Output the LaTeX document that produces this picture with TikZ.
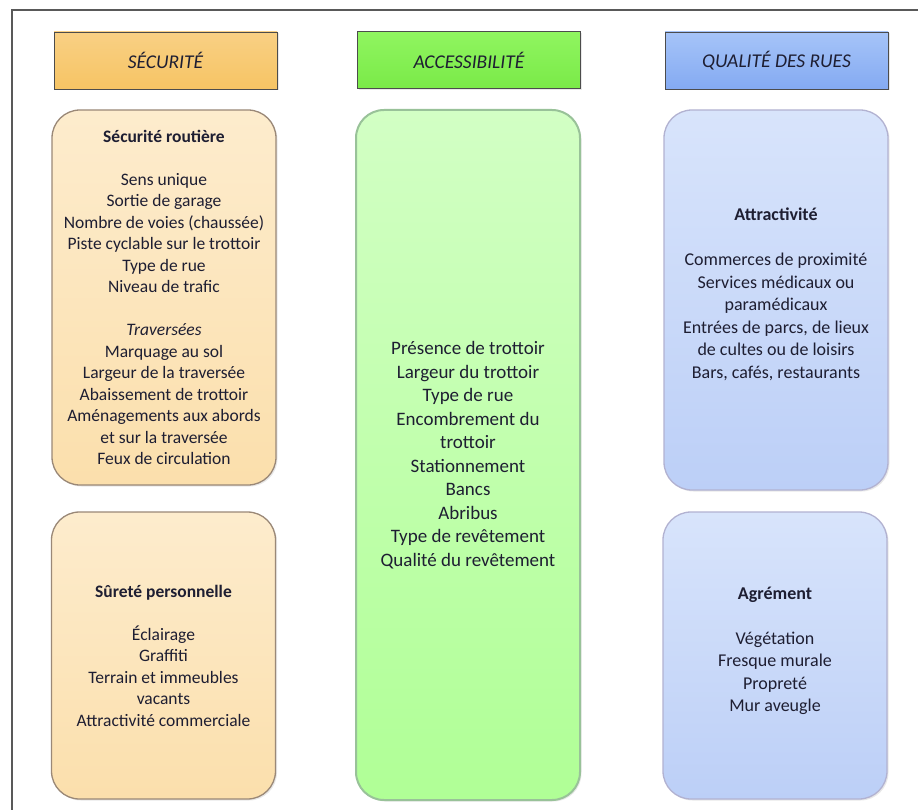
\documentclass[tikz,border=0pt]{standalone}
\usepackage{fontspec}
\setmainfont{Carlito}
\usetikzlibrary{shadows}
\definecolor{txt}{RGB}{30,30,50}
\definecolor{secdark}{RGB}{246,196,100}
\definecolor{seclight}{RGB}{249,208,132}
\definecolor{secbox}{RGB}{253,236,205}
\definecolor{secboxb}{RGB}{251,223,172}
\definecolor{accdark}{RGB}{122,234,72}
\definecolor{acclight}{RGB}{144,245,96}
\definecolor{accbox}{RGB}{210,255,196}
\definecolor{accboxb}{RGB}{176,255,150}
\definecolor{quadark}{RGB}{132,170,242}
\definecolor{qualight}{RGB}{166,196,248}
\definecolor{quabox}{RGB}{216,228,251}
\definecolor{quaboxb}{RGB}{188,207,247}
\tikzset{
  header/.style={draw=black!70, line width=0.9pt, minimum width=223pt, minimum height=57pt,
    text=txt, font=\fontsize{19.5}{23}\selectfont\itshape,
    drop shadow={opacity=0.18, shadow xshift=1.5pt, shadow yshift=-1.5pt}},
  group/.style={rounded corners=28pt, line width=1.3pt, minimum width=224pt, align=center,
    text=txt, font=\fontsize{17.5}{21.5}\selectfont,
    drop shadow={opacity=0.18, shadow xshift=1.5pt, shadow yshift=-1.5pt}},
}
\begin{document}
\begin{tikzpicture}[x=1pt,y=-1pt]
\useasboundingbox[fill=white] (0,0) rectangle (918,810);
\draw[black!65, line width=1.4pt] (12,810) -- (12,10) -- (918,10);

\node[header, top color=seclight, bottom color=secdark] (hdrsec) at (165.5,60.5) {SÉCURITÉ};
\node[header, top color=acclight, bottom color=accdark] (hdracc) at (469,60) {ACCESSIBILITÉ};
\node[header, top color=qualight, bottom color=quadark] (hdrqua) at (776.5,60.5) {QUALITÉ DES RUES};

\node[group, draw=black!55!brown!60, top color=secbox, bottom color=secboxb, minimum height=375pt] (routiere) at (164,297.5)
  {\textbf{Sécurité routière}\\[21.5pt] Sens unique\\ Sortie de garage\\ Nombre de voies (chaussée)\\
   Piste cyclable sur le trottoir\\ Type de rue\\ Niveau de trafic\\[21.5pt] \textit{Traversées}\\
   Marquage au sol\\ Largeur de la traversée\\ Abaissement de trottoir\\ Aménagements aux abords\\
   et sur la traversée\\ Feux de circulation};
\node[group, draw=black!55!brown!60, top color=secbox, bottom color=secboxb, minimum height=287pt] (surete) at (163.5,655.5)
  {\textbf{Sûreté personnelle}\\[21.5pt] Éclairage\\ Graffiti\\ Terrain et immeubles\\ vacants\\ Attractivité commerciale};

\node[group, draw=black!60!green!40, line width=2pt, top color=accbox, bottom color=accboxb, minimum height=690pt,
  font=\fontsize{19}{23.5}\selectfont] (trottoir) at (468,455)
  {Présence de trottoir\\ Largeur du trottoir\\ Type de rue\\ Encombrement du\\ trottoir\\ Stationnement\\
   Bancs\\ Abribus\\ Type de revêtement\\ Qualité du revêtement};

\node[group, draw=black!60!blue!30, top color=quabox, bottom color=quaboxb, minimum height=380pt,
  font=\fontsize{18}{22.5}\selectfont, text depth=14pt] (attract) at (776,300)
  {\textbf{Attractivité}\\[22.5pt] Commerces de proximité\\ Services médicaux ou\\ paramédicaux\\
   Entrées de parcs, de lieux\\ de cultes ou de loisirs\\ Bars, cafés, restaurants};
\node[group, draw=black!60!blue!30, top color=quabox, bottom color=quaboxb, minimum height=287pt,
  font=\fontsize{18}{22.5}\selectfont, text depth=12pt] (agrement) at (775,655.5)
  {\textbf{Agrément}\\[22.5pt] Végétation\\ Fresque murale\\ Propreté\\ Mur aveugle};
\end{tikzpicture}
\end{document}
